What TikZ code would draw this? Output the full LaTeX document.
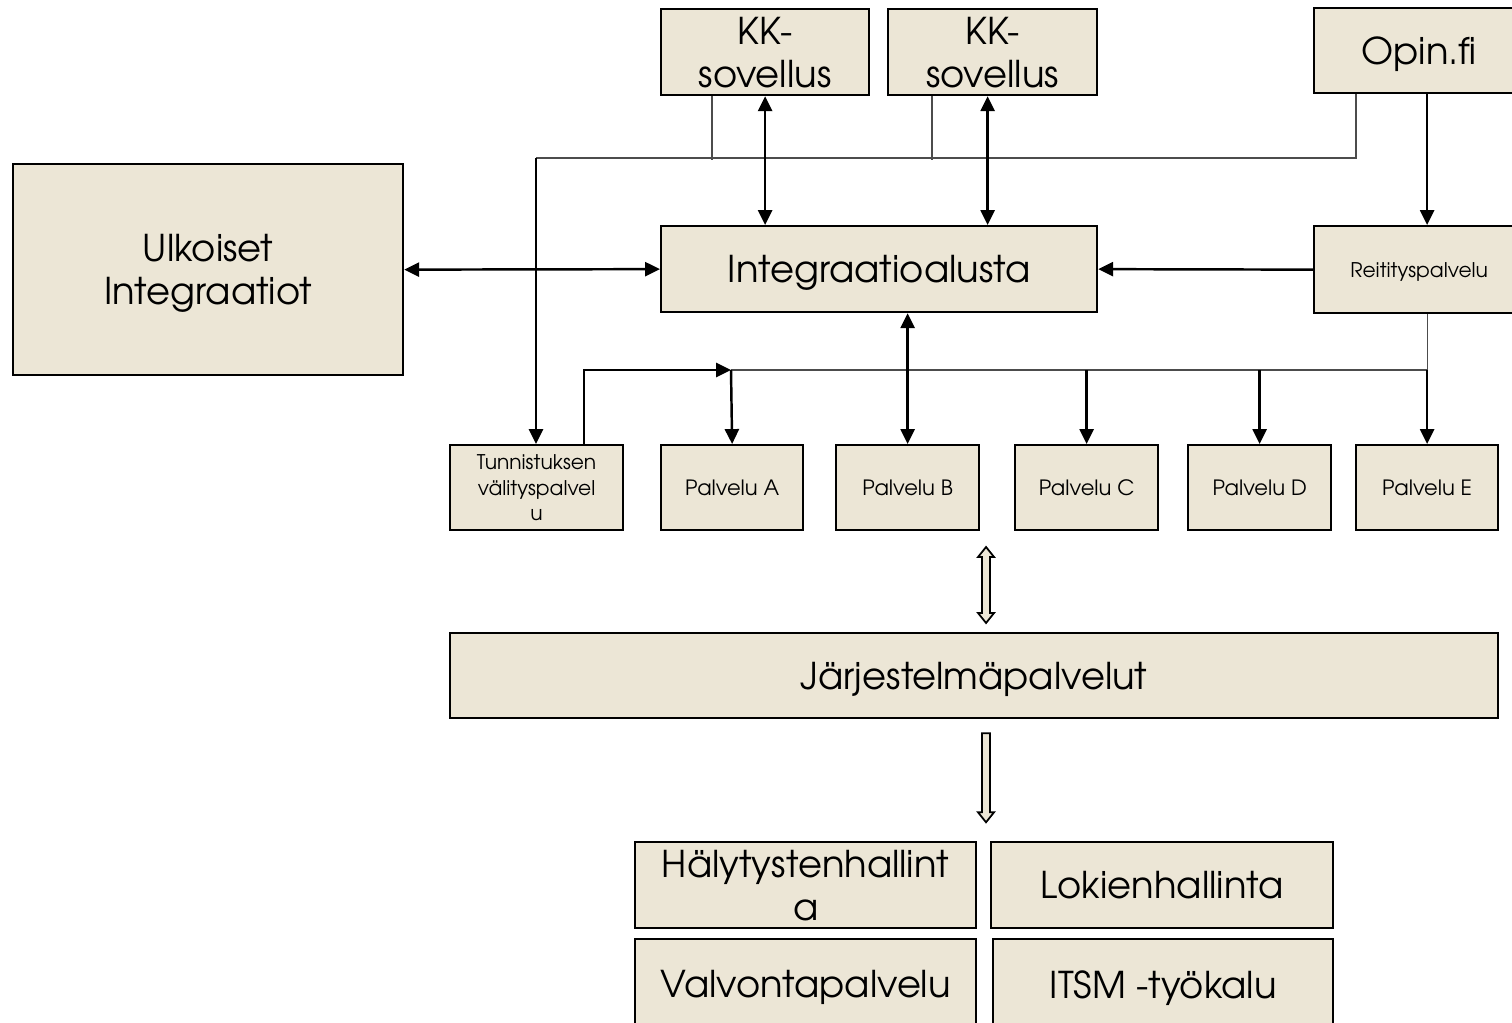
\documentclass[tikz,border=0pt]{standalone}
\usepackage{fontspec}
\setmainfont{TeX Gyre Adventor}
\usetikzlibrary{calc,arrows.meta}
\definecolor{sand}{RGB}{236,230,214}

\begin{document}
\begin{tikzpicture}[x=0.02cm,y=-0.02cm,
  box/.style={draw,rectangle,fill=sand,line width=1.3pt,anchor=north west,inner sep=0pt,align=center,text depth=0pt},
  big/.style={font=\fontsize{21}{24.5}\selectfont},
  small/.style={font=\fontsize{12}{14}\selectfont},
  tiny/.style={font=\fontsize{11.5}{14.7}\selectfont},
  link/.style={line width=1.4pt,>={Triangle[length=8.5pt,width=8pt]}},
  wire/.style={line width=0.6pt,black!70},
  hollow/.style={fill=sand,draw,line width=1pt,line join=miter}]
  \clip (0,0) rectangle (1512,1022);

  \node[box,big,minimum width=4.16cm,minimum height=1.72cm] (kk1) at (660,8) {KK-\\sovellus};
  \node[box,big,minimum width=4.18cm,minimum height=1.72cm] (kk2) at (887,8) {KK-\\sovellus};
  \node[box,big,minimum width=4.2cm,minimum height=1.7cm] (opin) at (1313,7) {Opin.fi};

  \node[box,big,minimum width=7.8cm,minimum height=4.22cm] (ulk) at (12,163) {Ulkoiset\\Integraatiot};
  \node[box,big,minimum width=8.72cm,minimum height=1.72cm] (integ) at (660,225) {Integraatioalusta};
  \node[box,tiny,minimum width=4.2cm,minimum height=1.74cm] (reitit) at (1313,225) {Reitityspalvelu};

  \node[box,tiny,minimum width=3.46cm,minimum height=1.7cm] (tunn) at (449,444) {Tunnistuksen\\välityspalvel\\u};
  \node[box,small,minimum width=2.84cm,minimum height=1.7cm] (pa) at (660,444) {Palvelu A};
  \node[box,small,minimum width=2.86cm,minimum height=1.7cm] (pb) at (835,444) {Palvelu B};
  \node[box,small,minimum width=2.86cm,minimum height=1.7cm] (pc) at (1014,444) {Palvelu C};
  \node[box,small,minimum width=2.86cm,minimum height=1.7cm] (pd) at (1187,444) {Palvelu D};
  \node[box,small,minimum width=2.84cm,minimum height=1.7cm] (pe) at (1355,444) {Palvelu E};

  \node[box,big,minimum width=20.96cm,minimum height=1.7cm] (jarj) at (449,632) {Järjestelmäpalvelut};

  \node[box,big,minimum width=6.82cm,minimum height=1.72cm] (haly) at (634,841) {Hälytystenhallint\\a};
  \node[box,big,minimum width=6.84cm,minimum height=1.72cm] (loki) at (990,841) {Lokienhallinta};
  \node[box,big,minimum width=6.82cm,minimum height=1.8cm] (valv) at (634,938) {Valvontapalvelu};
  \node[box,big,minimum width=6.8cm,minimum height=1.8cm] (itsm) at (992,938) {ITSM -työkalu};

  \coordinate (bus) at (536,158);
  \coordinate (hub) at (731,370);

  \draw[wire] ($(opin.south west)+(43,0)$) |- (bus);
  \draw[wire] ($(kk1.south west)+(52,0)$) -- ($(kk1.south west)+(52,64)$);
  \draw[wire] ($(kk2.south west)+(45,0)$) -- ($(kk2.south west)+(45,64)$);
  \draw[wire] (reitit.south -| pe.north) |- (hub);

  \path[link,<->] (ulk.east) edge (integ.west)
                  (kk1.south) edge (kk1.south |- integ.north)
                  ($(kk2.south)+(-5,0)$) edge ($(kk2.south |- integ.north)+(-5,0)$)
                  (pb.north) edge (pb.north |- integ.south);
  \path[link,->] (opin.south -| pe.north) edge (reitit.north -| pe.north)
                 (reitit.west) edge (integ.east)
                 (bus) edge (bus |- tunn.north)
                 (hub) edge (pa.north)
                 (pc.north |- hub) edge (pc.north)
                 (pd.north |- hub) edge (pd.north)
                 (pe.north |- hub) edge (pe.north);
  \draw[link,->] ($(tunn.north west)+(135,0)$) |- (hub);

  \coordinate (up) at ($(jarj.north)+(12,-9)$);
  \coordinate (dn) at ($(jarj.south)+(12,103)$);
  \filldraw[hollow] (up) -- ++(-8,-10) -- ++(4,0) -- ++(0,-56) -- ++(-4,0) -- ++(8,-10)
    -- ++(8,10) -- ++(-4,0) -- ++(0,56) -- ++(4,0) -- cycle;
  \filldraw[hollow] (dn) -- ++(-8,-10) -- ++(4,0) -- ++(0,-79) -- ++(8,0) -- ++(0,79)
    -- ++(4,0) -- cycle;
\end{tikzpicture}
\end{document}
